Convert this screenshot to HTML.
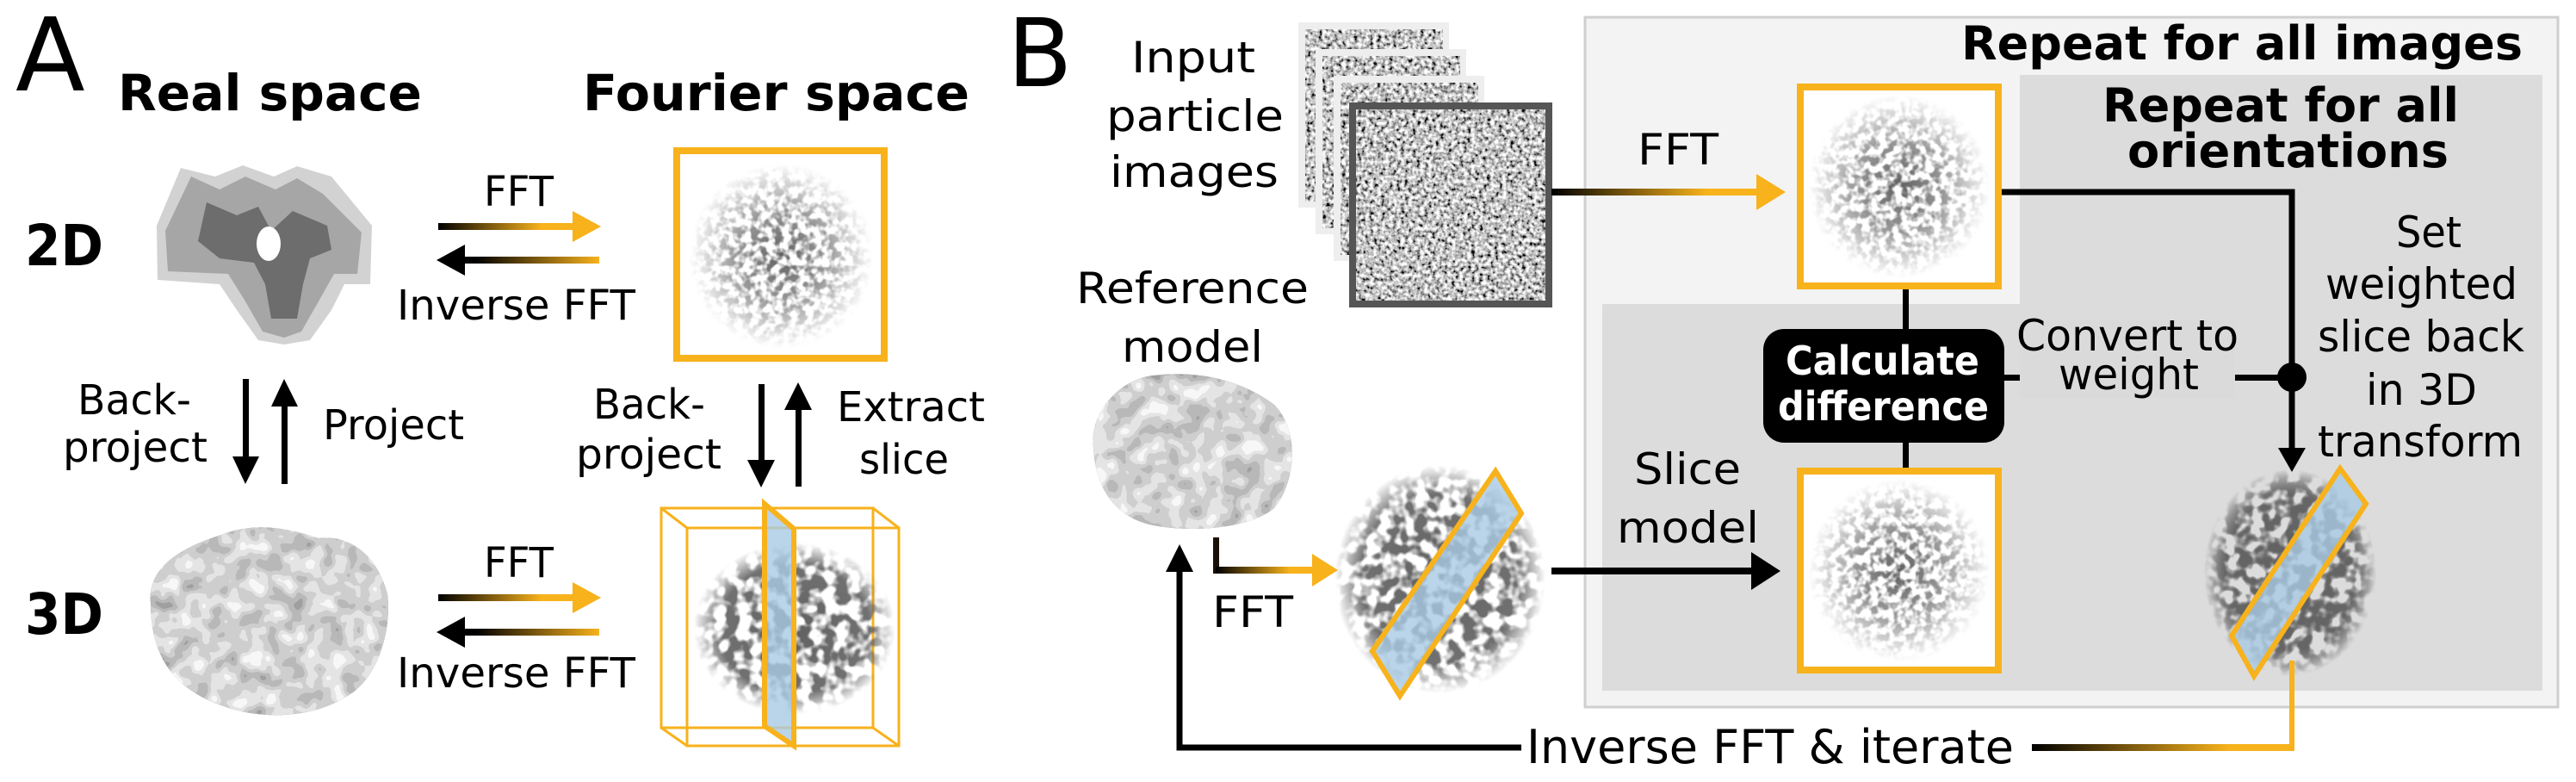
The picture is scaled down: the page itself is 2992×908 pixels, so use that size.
<!DOCTYPE html>
<html><head><meta charset="utf-8">
<style>
html,body{margin:0;padding:0;background:#fff;}
svg{display:block;}
text{font-family:"DejaVu Sans","Liberation Sans",sans-serif;fill:#000;}
.b{font-weight:bold;}
</style></head><body>
<svg width="2992" height="908" viewBox="0 0 2992 908" xmlns="http://www.w3.org/2000/svg">
<defs>
  <linearGradient id="gR" x1="0" x2="1" y1="0" y2="0"><stop offset="0" stop-color="#000"/><stop offset="0.75" stop-color="#f7b21c"/></linearGradient>
  <linearGradient id="gL" x1="1" x2="0" y1="0" y2="0"><stop offset="0" stop-color="#f7b21c"/><stop offset="0.9" stop-color="#000"/></linearGradient>
  <filter id="pn" x="0" y="0" width="1" height="1">
    <feTurbulence type="fractalNoise" baseFrequency="0.22" numOctaves="2" seed="3"/>
    <feColorMatrix type="matrix" values="1 0 0 0 0 1 0 0 0 0 1 0 0 0 0 0 0 0 0 1"/>
    <feComponentTransfer><feFuncR type="linear" slope="2.2" intercept="-0.55"/><feFuncG type="linear" slope="2.2" intercept="-0.55"/><feFuncB type="linear" slope="2.2" intercept="-0.55"/></feComponentTransfer>
  </filter>
  <filter id="fn" x="0" y="0" width="1" height="1">
    <feTurbulence type="fractalNoise" baseFrequency="0.11" numOctaves="2" seed="7"/>
    <feColorMatrix type="matrix" values="0 0 0 0 0.12 0 0 0 0 0.12 0 0 0 0 0.12 0 0 0 -4 2.4"/>
  </filter>
  <filter id="dk" x="0" y="0" width="1" height="1">
    <feTurbulence type="fractalNoise" baseFrequency="0.07" numOctaves="2" seed="9"/>
    <feColorMatrix type="matrix" values="0 0 0 0 0.12 0 0 0 0 0.12 0 0 0 0 0.12 0 0 0 -5 3.0"/>
  </filter>
  <radialGradient id="rg"><stop offset="0" stop-color="#fff"/><stop offset="0.5" stop-color="#fff" stop-opacity="0.65"/><stop offset="1" stop-color="#fff" stop-opacity="0"/></radialGradient>
  <mask id="fm" maskContentUnits="objectBoundingBox"><rect x="0" y="0" width="1" height="1" fill="url(#rg)"/></mask>
  <radialGradient id="rg2"><stop offset="0" stop-color="#fff"/><stop offset="0.75" stop-color="#fff" stop-opacity="0.9"/><stop offset="1" stop-color="#fff" stop-opacity="0"/></radialGradient>
  <mask id="fm2" maskContentUnits="objectBoundingBox"><rect x="0" y="0" width="1" height="1" fill="url(#rg2)"/></mask>
  <filter id="bn" x="0" y="0" width="1" height="1">
    <feTurbulence type="fractalNoise" baseFrequency="0.045" numOctaves="2" seed="11"/>
    <feColorMatrix type="matrix" values="1.3 0 0 0 -0.1 1.3 0 0 0 -0.1 1.3 0 0 0 -0.1 0 0 0 0 1"/>
    <feComponentTransfer><feFuncR type="discrete" tableValues="0.35 0.48 0.62 0.78 0.93"/><feFuncG type="discrete" tableValues="0.35 0.48 0.62 0.78 0.93"/><feFuncB type="discrete" tableValues="0.35 0.48 0.62 0.78 0.93"/></feComponentTransfer>
  </filter>
  <clipPath id="blobA"><path d="M175,700 C170,650 230,630 260,620 C300,605 340,615 370,625 C410,620 440,650 450,690 C455,730 440,790 400,810 C360,835 300,835 260,820 C200,800 175,760 175,700Z"/></clipPath>
  <clipPath id="blobR"><path d="M1270,520 C1265,480 1300,440 1340,436 C1390,430 1440,440 1480,470 C1510,500 1505,560 1480,590 C1450,615 1380,618 1340,610 C1290,600 1272,560 1270,520Z"/></clipPath>
</defs>

<!-- ================= PANEL A ================= -->
<text x="18" y="105" font-size="118">A</text>
<text x="137" y="128" font-size="58" class="b" textLength="353" lengthAdjust="spacingAndGlyphs">Real space</text>
<text x="677" y="128" font-size="58" class="b" textLength="449" lengthAdjust="spacingAndGlyphs">Fourier space</text>
<text x="29" y="308" font-size="66" class="b" textLength="91" lengthAdjust="spacingAndGlyphs">2D</text>
<text x="29" y="736" font-size="66" class="b" textLength="91" lengthAdjust="spacingAndGlyphs">3D</text>

<g>
<path d="M210,195 L250,205 L282,192 L318,205 L345,193 L385,205 L432,262 L430,330 L400,330 L385,360 L360,395 L330,400 L300,395 L275,360 L255,330 L183,325 L182,262Z" fill="#d2d2d2"/>
<path d="M222,205 L255,220 L285,205 L320,220 L345,207 L375,225 L420,270 L415,318 L388,318 L370,350 L350,385 L330,392 L305,385 L285,350 L265,318 L195,315 L192,268Z" fill="#a6a6a6"/>
<path d="M240,235 L275,250 L300,240 L315,268 L340,245 L380,262 L385,290 L360,300 L352,330 L345,370 L315,370 L308,330 L295,305 L255,300 L230,280Z" fill="#6d6d6d"/>
<ellipse cx="312" cy="283" rx="14" ry="20" fill="#fff"/>
</g>

<rect x="509" y="259" width="160" height="8" fill="url(#gR)"/>
<polygon points="665,245 698,263 665,281" fill="#f7b21c"/>
<rect x="536" y="298" width="160" height="8" fill="url(#gL)"/>
<polygon points="540,284 507,302 540,320" fill="#000"/>
<text x="562" y="239" font-size="48" textLength="81" lengthAdjust="spacingAndGlyphs">FFT</text>
<text x="461" y="371" font-size="48" textLength="277" lengthAdjust="spacingAndGlyphs">Inverse FFT</text>

<rect x="786" y="175" width="241" height="241" fill="#fff" stroke="#f7b21c" stroke-width="8"/>
<rect x="800" y="190" width="215" height="215" filter="url(#fn)" mask="url(#fm)"/>

<rect x="282" y="440" width="7" height="95" fill="#000"/>
<polygon points="270,530 301,530 285,562" fill="#000"/>
<rect x="327" y="468" width="7" height="94" fill="#000"/>
<polygon points="315,472 346,472 330,440" fill="#000"/>
<text x="90" y="481" font-size="48" textLength="132" lengthAdjust="spacingAndGlyphs">Back-</text>
<text x="73" y="536" font-size="48" textLength="168" lengthAdjust="spacingAndGlyphs">project</text>
<text x="375" y="510" font-size="48" textLength="164" lengthAdjust="spacingAndGlyphs">Project</text>

<rect x="881" y="446" width="7" height="92" fill="#000"/>
<polygon points="868,534 900,534 884,566" fill="#000"/>
<rect x="924" y="472" width="7" height="93" fill="#000"/>
<polygon points="911,476 943,476 927,444" fill="#000"/>
<text x="689" y="486" font-size="48" textLength="130" lengthAdjust="spacingAndGlyphs">Back-</text>
<text x="669" y="544" font-size="48" textLength="169" lengthAdjust="spacingAndGlyphs">project</text>
<text x="972" y="489" font-size="48" textLength="172" lengthAdjust="spacingAndGlyphs">Extract</text>
<text x="998" y="550" font-size="48" textLength="104" lengthAdjust="spacingAndGlyphs">slice</text>

<g>
<path d="M175,700 C170,650 230,630 260,620 C300,605 340,615 370,625 C410,620 440,650 450,690 C455,730 440,790 400,810 C360,835 300,835 260,820 C200,800 175,760 175,700Z" fill="#6e6e6e"/>
<rect x="165" y="610" width="295" height="230" filter="url(#bn)" clip-path="url(#blobA)"/>
</g>

<rect x="509" y="690" width="160" height="8" fill="url(#gR)"/>
<polygon points="665,676 698,694 665,712" fill="#f7b21c"/>
<rect x="536" y="730" width="160" height="8" fill="url(#gL)"/>
<polygon points="540,716 507,734 540,752" fill="#000"/>
<text x="562" y="670" font-size="48" textLength="81" lengthAdjust="spacingAndGlyphs">FFT</text>
<text x="461" y="798" font-size="48" textLength="277" lengthAdjust="spacingAndGlyphs">Inverse FFT</text>

<g fill="none" stroke="#f7b21c" stroke-width="3">
<rect x="768" y="590" width="246" height="255"/>
<rect x="798" y="613" width="246" height="253"/>
<line x1="768" y1="590" x2="798" y2="613"/><line x1="1014" y1="590" x2="1044" y2="613"/>
<line x1="768" y1="845" x2="798" y2="866"/><line x1="1014" y1="845" x2="1044" y2="866"/>
</g>
<rect x="805" y="630" width="235" height="200" filter="url(#dk)" mask="url(#fm2)"/>
<polygon points="888,585 922,614 922,866 888,843" fill="#a9cbe3" fill-opacity="0.8" stroke="#f7b21c" stroke-width="6"/>

<!-- ================= PANEL B ================= -->
<text x="1170" y="100" font-size="110">B</text>

<rect x="1841" y="20" width="1130" height="801" fill="#f3f3f3" stroke="#cfcfcf" stroke-width="3"/>
<path d="M2346,87 H2953 V802 H1861 V353 H2346Z" fill="#dcdcdc"/>
<text x="2278" y="69" font-size="54" class="b" textLength="652" lengthAdjust="spacingAndGlyphs">Repeat for all images</text>
<text x="2442" y="141" font-size="54" class="b" textLength="414" lengthAdjust="spacingAndGlyphs">Repeat for all</text>
<text x="2471" y="194" font-size="54" class="b" textLength="373" lengthAdjust="spacingAndGlyphs">orientations</text>

<g>
<rect x="1508" y="26" width="175" height="215" fill="#eee"/>
<rect x="1516" y="34" width="160" height="200" filter="url(#pn)"/>
<rect x="1528" y="57" width="175" height="215" fill="#eee"/>
<rect x="1536" y="65" width="160" height="200" filter="url(#pn)"/>
<rect x="1549" y="88" width="175" height="215" fill="#eee"/>
<rect x="1557" y="96" width="160" height="200" filter="url(#pn)"/>
<rect x="1571" y="123" width="228" height="230" filter="url(#pn)"/>
<rect x="1571" y="123" width="228" height="230" fill="none" stroke="#555" stroke-width="8"/>
</g>
<text x="1314" y="84" font-size="50" textLength="144" lengthAdjust="spacingAndGlyphs">Input</text>
<text x="1285" y="152" font-size="50" textLength="206" lengthAdjust="spacingAndGlyphs">particle</text>
<text x="1289" y="217" font-size="50" textLength="196" lengthAdjust="spacingAndGlyphs">images</text>

<rect x="1802" y="219" width="240" height="8" fill="url(#gR)"/>
<polygon points="2040,202 2074,223 2040,244" fill="#f7b21c"/>
<text x="1902" y="191" font-size="50" textLength="94" lengthAdjust="spacingAndGlyphs">FFT</text>

<rect x="2091" y="101" width="230" height="231" fill="#fff" stroke="#f7b21c" stroke-width="8"/>
<rect x="2100" y="110" width="212" height="213" filter="url(#fn)" mask="url(#fm)"/>

<polyline points="2325,223 2662,223 2662,525" fill="none" stroke="#000" stroke-width="7"/>
<polygon points="2646,520 2678,520 2662,548" fill="#000"/>
<rect x="2210" y="336" width="7" height="46" fill="#000"/>
<rect x="2210" y="513" width="7" height="30" fill="#000"/>
<rect x="2327" y="435" width="335" height="7" fill="#000"/>
<rect x="2346" y="372" width="250" height="90" fill="#dadada"/>
<circle cx="2662" cy="438" r="17" fill="#000"/>

<rect x="2048" y="382" width="280" height="132" rx="24" fill="#000"/>
<text x="2074" y="435" font-size="46" class="b" textLength="225" lengthAdjust="spacingAndGlyphs" style="fill:#fff">Calculate</text>
<text x="2065" y="488" font-size="46" class="b" textLength="245" lengthAdjust="spacingAndGlyphs" style="fill:#fff">difference</text>
<text x="2342" y="407" font-size="50" textLength="258" lengthAdjust="spacingAndGlyphs">Convert to</text>
<text x="2391" y="452" font-size="50" textLength="163" lengthAdjust="spacingAndGlyphs">weight</text>

<text x="2783" y="287" font-size="50" textLength="76" lengthAdjust="spacingAndGlyphs">Set</text>
<text x="2701" y="347" font-size="50" textLength="223" lengthAdjust="spacingAndGlyphs">weighted</text>
<text x="2692" y="408" font-size="50" textLength="240" lengthAdjust="spacingAndGlyphs">slice back</text>
<text x="2748" y="470" font-size="50" textLength="129" lengthAdjust="spacingAndGlyphs">in 3D</text>
<text x="2692" y="530" font-size="50" textLength="238" lengthAdjust="spacingAndGlyphs">transform</text>

<rect x="2091" y="547" width="230" height="231" fill="#fff" stroke="#f7b21c" stroke-width="8"/>
<rect x="2100" y="556" width="212" height="213" filter="url(#fn)" mask="url(#fm)"/>
<text x="1898" y="562" font-size="50" textLength="124" lengthAdjust="spacingAndGlyphs">Slice</text>
<text x="1878" y="630" font-size="50" textLength="165" lengthAdjust="spacingAndGlyphs">model</text>

<rect x="1802" y="659" width="235" height="8" fill="#000"/>
<polygon points="2034,641 2068,663 2034,685" fill="#000"/>

<text x="1250" y="352" font-size="50" textLength="270" lengthAdjust="spacingAndGlyphs">Reference</text>
<text x="1303" y="420" font-size="50" textLength="164" lengthAdjust="spacingAndGlyphs">model</text>
<path d="M1270,520 C1265,480 1300,440 1340,436 C1390,430 1440,440 1480,470 C1510,500 1505,560 1480,590 C1450,615 1380,618 1340,610 C1290,600 1272,560 1270,520Z" fill="#6e6e6e"/>
<rect x="1262" y="430" width="250" height="190" filter="url(#bn)" clip-path="url(#blobR)"/>

<rect x="1409" y="624" width="7" height="42" fill="#1a1006"/>
<rect x="1412" y="658" width="115" height="8" fill="url(#gR)"/>
<polygon points="1524,643 1554,662 1524,681" fill="#f7b21c"/>
<text x="1408" y="728" font-size="50" textLength="94" lengthAdjust="spacingAndGlyphs">FFT</text>

<rect x="1550" y="540" width="245" height="265" filter="url(#dk)" mask="url(#fm2)"/>
<polygon points="1737,547 1767,596 1626,808 1594,756" fill="#a9cbe3" fill-opacity="0.8" stroke="#f7b21c" stroke-width="6"/>

<rect x="2560" y="545" width="200" height="240" filter="url(#dk)" mask="url(#fm2)"/>
<rect x="2560" y="545" width="200" height="240" filter="url(#dk)" mask="url(#fm2)" opacity="0.7"/>
<polygon points="2718,544 2748,585 2618,785 2592,738" fill="#a9cbe3" fill-opacity="0.8" stroke="#f7b21c" stroke-width="6"/>

<polyline points="1767,868 1370,868 1370,660" fill="none" stroke="#000" stroke-width="7"/>
<polygon points="1354,664 1386,664 1370,632" fill="#000"/>
<rect x="2360" y="864" width="305" height="8" fill="url(#gR)"/>
<rect x="2659" y="767" width="6" height="105" fill="#f7b21c"/>
<text x="1773" y="886" font-size="54" textLength="566" lengthAdjust="spacingAndGlyphs">Inverse FFT &amp; iterate</text>
</svg>
</body></html>
